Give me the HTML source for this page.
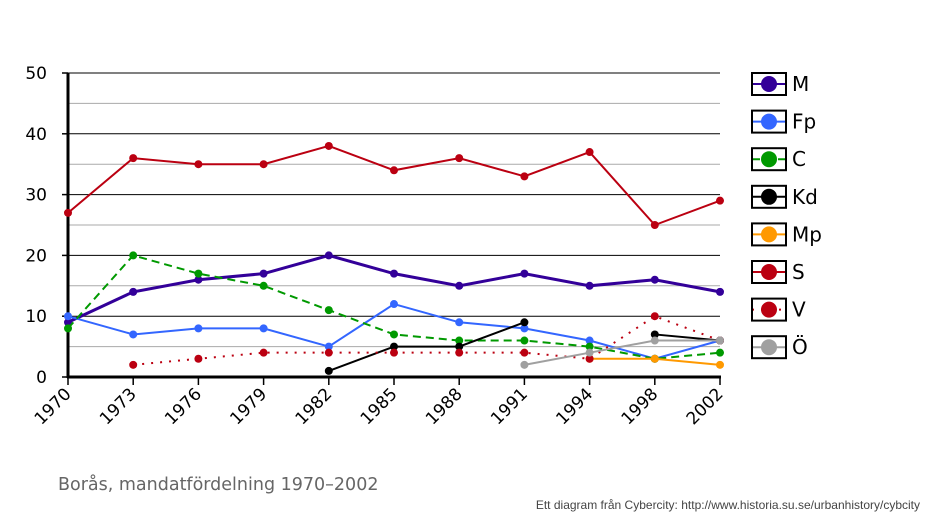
<!DOCTYPE html>
<html><head><meta charset="utf-8"><style>
body{margin:0;background:#fff;width:934px;height:521px;overflow:hidden}
svg{font-family:"DejaVu Sans","Liberation Sans",sans-serif}
</style></head><body>
<svg id="chart" width="934" height="521"></svg>
<script>
const years=["1970","1973","1976","1979","1982","1985","1988","1991","1994","1998","2002"];
const M=[9,14,16,17,20,17,15,17,15,16,14];
const Fp=[10,7,8,8,5,12,9,8,6,3,6];
const C=[8,20,17,15,11,7,6,6,5,3,4];
const Kd=[null,null,null,null,1,5,5,9,null,7,6];
const Mp=[null,null,null,null,null,null,null,null,3,3,2];
const S=[27,36,35,35,38,34,36,33,37,25,29];
const V=[null,2,3,4,4,4,4,4,3,10,6];
const O=[null,null,null,null,null,null,null,2,4,6,6];
const yTicks=[0,10,20,30,40,50];
const series=[
 {name:"M",data:M,color:"#330099",w:3,dash:""},
 {name:"Fp",data:Fp,color:"#3366ff",w:2,dash:""},
 {name:"C",data:C,color:"#009900",w:2,dash:"8,5"},
 {name:"Kd",data:Kd,color:"#000000",w:2,dash:""},
 {name:"Mp",data:Mp,color:"#ff9900",w:2,dash:""},
 {name:"S",data:S,color:"#bb0011",w:2,dash:""},
 {name:"V",data:V,color:"#bb0011",w:2,dash:"2,7"},
 {name:"Ö",data:O,color:"#a0a0a0",w:2,dash:""}];
const svg=document.getElementById('chart');const NS="http://www.w3.org/2000/svg";
function el(t,a,p){const e=document.createElementNS(NS,t);for(const k in a)e.setAttribute(k,a[k]);(p||svg).appendChild(e);return e;}
const x0=68,x1=720,y0=377,y1=73;
const xs=i=>x0+i*(x1-x0)/(years.length-1);
const ys=v=>y0-v*(y0-y1)/50;
for(let v=5;v<=50;v+=5){const g=el('line',{x1:x0,x2:x1,y1:ys(v),y2:ys(v),stroke:v%10?"#aaa":"#000","stroke-width":1});
}
yTicks.forEach(v=>{const t=el('text',{x:47,y:ys(v)+6,"text-anchor":"end","font-size":17});t.textContent=v;

el('line',{x1:x0-6,x2:x0,y1:ys(v),y2:ys(v),stroke:"#000","stroke-width":1.5});});
const ax=el('line',{x1:x0,x2:x0,y1:y1,y2:y0+1,stroke:"#000","stroke-width":3});
const bx=el('line',{x1:x0-1,x2:x1+1,y1:y0,y2:y0,stroke:"#000","stroke-width":3});
years.forEach((y,i)=>{el('line',{x1:xs(i),x2:xs(i),y1:y0,y2:y0+8,stroke:"#000","stroke-width":1.5});
const t=el('text',{x:xs(i)+4,y:y0+18,"text-anchor":"end","font-size":17,transform:`rotate(-45 ${xs(i)+4} ${y0+18})`});t.textContent=y;
});
series.forEach((s,si)=>{
 const g=el('g',{});
 let d="";let pen=false;
 s.data.forEach((v,i)=>{if(v==null){pen=false;return;}d+=(pen?"L":"M")+xs(i)+","+ys(v);pen=true;});
 el('path',{d:d,fill:"none",stroke:s.color,"stroke-width":s.w,"stroke-dasharray":s.dash},g);
 s.data.forEach((v,i)=>{if(v==null)return;const c=el('circle',{cx:xs(i),cy:ys(v),r:4,fill:s.color},g);
  });
 const ly=84+si*37.6;
 const lg=el('g',{});
 el('line',{x1:752,x2:786,y1:ly,y2:ly,stroke:s.color,"stroke-width":2,"stroke-dasharray":s.dash},lg);
 el('rect',{x:752,y:ly-11,width:34,height:22,fill:"none",stroke:"#000","stroke-width":2},lg);
 el('circle',{cx:769,cy:ly,r:8,fill:s.color},lg);
 const t=el('text',{x:792,y:ly+7,"font-size":20},lg);t.textContent=s.name;
});
const ti=el('text',{x:58,y:490,"font-size":17.5,fill:"#666"});ti.textContent="Borås, mandatfördelning 1970–2002";

const cr=el('text',{x:920,y:509,"text-anchor":"end","font-size":12,fill:"#444","font-family":"Liberation Sans, sans-serif"});cr.textContent="Ett diagram från Cybercity: http://www.historia.su.se/urbanhistory/cybcity";

</script></body></html>
